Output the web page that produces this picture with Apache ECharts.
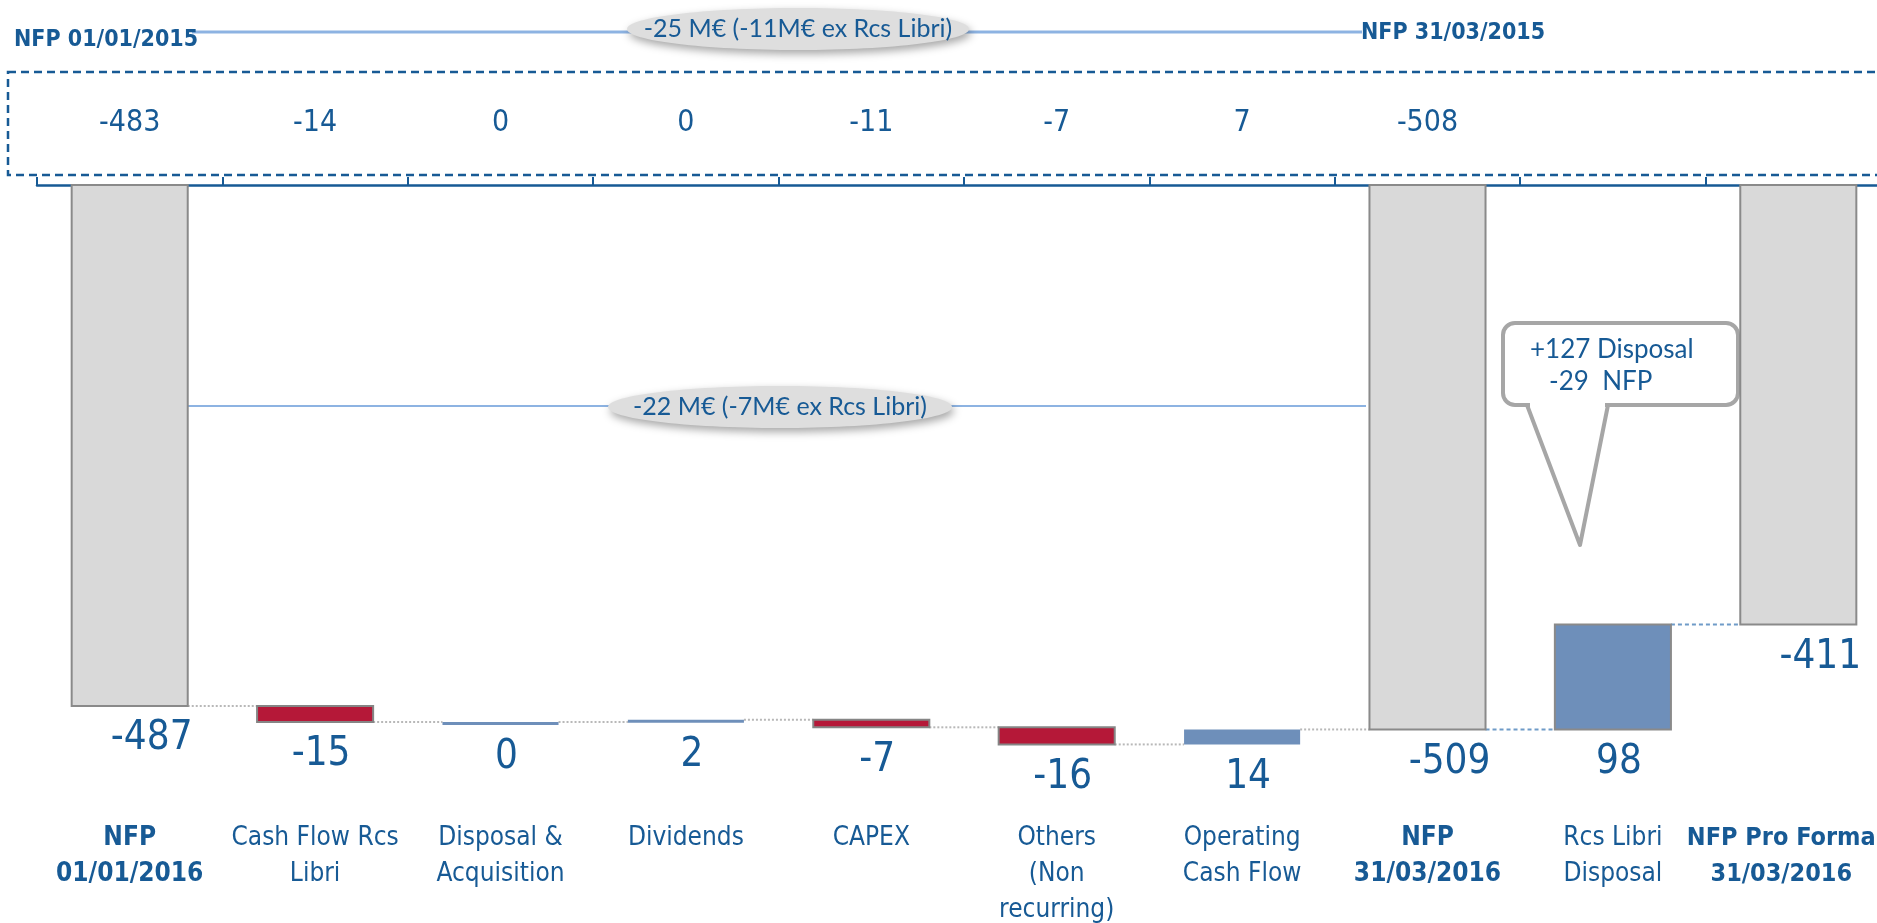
<!DOCTYPE html>
<html>
<head>
<meta charset="utf-8">
<style>
  html, body { margin: 0; padding: 0; background: #fff; }
  #main { width: 1877px; height: 923px; }
</style>
<script src="https://cdn.jsdelivr.net/npm/echarts@6/dist/echarts.min.js"></script>
</head>
<body>
<div id="main"></div>
<script>
// data
const categories = [
  'NFP\n01/01/2016', 'Cash Flow Rcs\nLibri', 'Disposal &\nAcquisition', 'Dividends', 'CAPEX',
  'Others\n(Non\nrecurring)', 'Operating\nCash Flow', 'NFP\n31/03/2016', 'Rcs Libri\nDisposal',
  'NFP Pro Forma\n31/03/2016'
];
const values = [-487, -15, 0, 2, -7, -16, 14, -509, 98, -411];
const isTotal = [true, false, false, false, false, false, false, true, false, true];
const prevValues = ['-483', '-14', '0', '0', '-11', '-7', '7', '-508', '', ''];

const BLUE_TEXT = '#175a95';
const NARROW = "'Liberation Sans Narrow', 'DejaVu Sans Condensed', sans-serif";
const HUMAN = "Lato, 'Open Sans', sans-serif";

// waterfall: [index, start, end]
const bars = [];
const links = [];
let running = 0;
values.forEach((v, i) => {
  if (isTotal[i]) {
    bars.push([i, 0, v]);
    running = v;
  } else {
    bars.push([i, running, running + v]);
    running += v;
  }
  if (i < values.length - 1) links.push([i, running]);
});

function barStyle(i) {
  if (isTotal[i]) return { fill: '#d9d9d9', stroke: '#8a8a8a', lineWidth: 2 };
  if (values[i] < 0) return { fill: '#b51838', stroke: '#858585', lineWidth: 2 };
  if (i === 8) return { fill: '#6e8fba', stroke: '#8a8a8a', lineWidth: 2 };
  return { fill: '#6e8fba', stroke: null, lineWidth: 0 };
}

function renderBar(params, api) {
  const i = api.value(0);
  const a = api.coord([i, api.value(1)]);
  const b = api.coord([i, api.value(2)]);
  const bw = api.size([1, 0])[0] * 0.626;
  const top = Math.min(a[1], b[1]);
  const h = Math.max(Math.abs(a[1] - b[1]), 3);
  return {
    type: 'group',
    children: [
      {
        type: 'rect',
        shape: { x: a[0] - bw / 2, y: top, width: bw, height: h },
        style: barStyle(i)
      },
      {
        type: 'text',
        x: a[0] + (isTotal[i] ? 22 : 6),
        y: top + h + 33,
        style: {
          text: String(values[i]),
          fill: BLUE_TEXT,
          font: '40px ' + NARROW,
          align: 'center',
          verticalAlign: 'middle'
        }
      }
    ]
  };
}

function renderLink(params, api) {
  const i = api.value(0);
  const a = api.coord([i, api.value(1)]);
  const b = api.coord([i + 1, api.value(1)]);
  const bw = api.size([1, 0])[0] * 0.626;
  const blue = i >= 7;
  return {
    type: 'line',
    shape: { x1: a[0] + bw / 2, y1: a[1], x2: b[0] - bw / 2, y2: b[1] },
    style: {
      stroke: blue ? '#6f9bc8' : '#b8b8b8',
      lineWidth: 2,
      lineDash: blue ? [4, 3] : [2, 2]
    }
  };
}

const myChart = echarts.init(document.getElementById('main'));

const option = {
  backgroundColor: '#fff',
  animation: false,
  grid: { left: 37, top: 185, width: 1854, height: 599, outerBoundsMode: 'none', containLabel: false },
  xAxis: [
    {
      type: 'category',
      position: 'top',
      data: categories,
      axisLine: { lineStyle: { color: BLUE_TEXT, width: 2.5 } },
      axisTick: { show: true, alignWithLabel: false, length: 8, lineStyle: { color: BLUE_TEXT, width: 2 } },
      axisLabel: {
        interval: 0,
        margin: 47,
        color: BLUE_TEXT,
        fontSize: 30,
        fontFamily: NARROW,
        formatter: (v, i) => prevValues[i]
      }
    },
    {
      type: 'category',
      position: 'bottom',
      data: categories,
      axisLine: { show: false },
      axisTick: { show: false },
      axisLabel: {
        interval: 0,
        margin: 36,
        color: BLUE_TEXT,
        fontSize: 26,
        lineHeight: 36,
        fontFamily: NARROW,
        formatter: (v, i) => {
          if (i === categories.length - 1) return '{e|' + v + '}';
          return isTotal[i] ? '{b|' + v + '}' : v;
        },
        rich: {
          b: { fontWeight: 'bold', fontSize: 26, lineHeight: 36, color: BLUE_TEXT, fontFamily: NARROW },
          e: { fontWeight: 'bold', fontSize: 25, lineHeight: 36, color: BLUE_TEXT, fontFamily: NARROW, padding: [0, 34, 0, 0] }
        }
      }
    }
  ],
  yAxis: {
    type: 'value',
    min: -560,
    max: 0,
    show: false
  },
  series: [
    {
      type: 'custom',
      xAxisIndex: 0,
      renderItem: renderLink,
      data: links,
      z: 1
    },
    {
      type: 'custom',
      xAxisIndex: 0,
      renderItem: renderBar,
      data: bars,
      z: 2
    }
  ],
  graphic: [
    // dashed frame around 2015 values
    {
      type: 'rect', z: 0,
      shape: { x: 8, y: 72, width: 1900, height: 103 },
      style: { fill: null, stroke: BLUE_TEXT, lineWidth: 2.5, lineDash: [8, 5] }
    },
    // top bracket
    {
      type: 'line',
      shape: { x1: 192, y1: 32, x2: 1362, y2: 32 },
      style: { stroke: '#8db3e2', lineWidth: 3 }
    },
    {
      type: 'ellipse',
      shape: { cx: 798, cy: 29, rx: 171, ry: 21 },
      style: { fill: '#dedede', shadowBlur: 8, shadowOffsetX: 2, shadowOffsetY: 4, shadowColor: 'rgba(0,0,0,0.35)' }
    },
    {
      type: 'text', x: 798, y: 29,
      style: { text: '-25 M€ (-11M€ ex Rcs Libri)', fill: BLUE_TEXT, font: '25px ' + HUMAN, align: 'center', verticalAlign: 'middle' }
    },
    {
      type: 'text', x: 14, y: 40,
      style: { text: 'NFP 01/01/2015', fill: BLUE_TEXT, font: 'bold 23px ' + NARROW, align: 'left', verticalAlign: 'middle' }
    },
    {
      type: 'text', x: 1361, y: 33,
      style: { text: 'NFP 31/03/2015', fill: BLUE_TEXT, font: 'bold 23px ' + NARROW, align: 'left', verticalAlign: 'middle' }
    },
    // middle bracket
    {
      type: 'line',
      shape: { x1: 188, y1: 406, x2: 1366, y2: 406 },
      style: { stroke: '#8db3e2', lineWidth: 2 }
    },
    {
      type: 'ellipse',
      shape: { cx: 780, cy: 407, rx: 172, ry: 21 },
      style: { fill: '#dedede', shadowBlur: 8, shadowOffsetX: 2, shadowOffsetY: 4, shadowColor: 'rgba(0,0,0,0.35)' }
    },
    {
      type: 'text', x: 780, y: 407,
      style: { text: '-22 M€ (-7M€ ex Rcs Libri)', fill: BLUE_TEXT, font: '25px ' + HUMAN, align: 'center', verticalAlign: 'middle' }
    },
    // callout
    {
      type: 'rect',
      shape: { x: 1503, y: 323, width: 235, height: 82, r: 12 },
      style: { fill: '#fff', stroke: '#a6a6a6', lineWidth: 4 }
    },
    {
      type: 'line',
      shape: { x1: 1530, y1: 405, x2: 1605, y2: 405 },
      style: { stroke: '#fff', lineWidth: 6 }
    },
    {
      type: 'polyline',
      shape: { points: [[1527, 405], [1580, 545], [1608, 405]] },
      style: { stroke: '#a6a6a6', lineWidth: 4, fill: null, lineJoin: 'round' }
    },
    {
      type: 'text', x: 1530, y: 350,
      style: { text: '+127 Disposal', fill: BLUE_TEXT, font: '26px ' + HUMAN, align: 'left', verticalAlign: 'middle' }
    },
    {
      type: 'text', x: 1549, y: 382,
      style: { text: '-29  NFP', fill: BLUE_TEXT, font: '26px ' + HUMAN, align: 'left', verticalAlign: 'middle' }
    }
  ]
};

myChart.setOption(option);
</script>
</body>
</html>
